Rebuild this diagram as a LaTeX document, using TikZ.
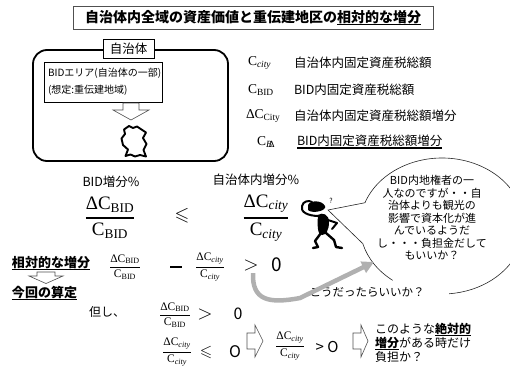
\RequirePackage{fix-cm}
\documentclass[tikz,border=0pt]{standalone}
\usepackage[no-math]{fontspec}
\usepackage{amsmath,amssymb}
\setmainfont{Noto Sans CJK JP}
\newfontfamily\ser{Liberation Serif}
\usetikzlibrary{arrows.meta}

\definecolor{arrowgray}{RGB}{176,176,176}
\definecolor{edgegray}{RGB}{80,80,80}

% thick underline for emphasised words
\newcommand{\myul}[1]{\setbox0=\hbox{#1}\rlap{\rule[-2.6pt]{\wd0}{1.1pt}}\box0}
% serif symbols for the tax quantities
\newcommand{\qC}{\text{\ser C}}
\newcommand{\qD}{\text{\ser Δ}}
\newcommand{\sBID}{_{\text{\ser BID}}}
\newcommand{\sCity}{_{\text{\ser City}}}
\newcommand{\scity}{_{\text{\ser\itshape city}}}
% fraction with a chosen bar thickness
\newcommand{\qfrac}[3]{\genfrac{}{}{#1}{0}{#2}{#3}}

\begin{document}
\begin{tikzpicture}[x=1pt, y=-1pt,
  every node/.style={inner sep=0pt, outer sep=0pt},
  jp/.style={font=\fontsize{12.5}{15}\selectfont},
  jpbody/.style={font=\fontsize{10}{12}\selectfont},
  jpbold/.style={font=\fontsize{13}{15}\selectfont\bfseries},
  defmath/.style={font=\fontsize{13.5}{15}\selectfont},
  bigmath/.style={font=\fontsize{19}{22}\selectfont},
  smallmath/.style={font=\fontsize{11.5}{13}\selectfont},
  relsym/.style={font=\fontsize{20}{24}\selectfont},
  hollow/.style={draw=edgegray, line width=0.6pt, fill=white},
  bubble/.style={draw=black!85, line width=0.6pt},
  stickline/.style={line width=2pt, line cap=round, line join=round},
]
\useasboundingbox (0,0) rectangle (510,370);

% ---------- title ----------
\node[draw=edgegray, line width=0.8pt, minimum width=360pt, minimum height=23pt,
      font=\fontsize{14}{16}\selectfont\bfseries] (title) at (253,17.5)
  {自治体内全域の資産価値と重伝建地区の\myul{相対的な増分}};

% ---------- municipality box ----------
\node[draw, line width=1.8pt, rounded corners=14pt, minimum width=195pt,
      minimum height=111pt] (city) at (130.5,105.5) {};
\node[draw, fill=white, line width=0.8pt, minimum width=51pt, minimum height=19pt,
      jp] (citylabel) at (128.5,48.5) {自治体};
\node[draw, line width=1pt, minimum width=118pt, minimum height=40pt] (bidbox) at (103,82) {};
\node[jpbody, anchor=west] (bidline1) at (48,73) {BIDエリア(自治体の一部)};
\node[jpbody, anchor=west] (bidline2) at (48,90) {(想定:重伝建地域)};

% hollow arrow down to the district outline
\draw[hollow] (123,103) -- (139,103) -- (139,110) -- (149,110) -- (131,120)
  -- (113,110) -- (123,110) -- cycle;

% district outline
\draw[line width=1.9pt, line join=round, fill=white]
  (129,126) -- (133,128) -- (137,126.5) -- (141.5,129.5) -- (146,132.5)
  -- (143,138) -- (146.5,144) -- (143.5,150) -- (146,156.5) -- (140,155)
  -- (135,156.5) -- (130.5,154.5) -- (125.5,156) -- (128,149.5) -- (123,145)
  -- (121.5,138.5) -- (125,134) -- (124,129.5) -- cycle;

% ---------- symbol definitions ----------
\node[defmath, anchor=west] (scity) at (248,63) {$\qC\scity$};
\node[jp, anchor=west] (tcity) at (294,63) {自治体内固定資産税総額};
\node[defmath, anchor=west] (sbid) at (248,90) {$\qC\sBID$};
\node[jp, anchor=west] (tbid) at (294,90) {BID内固定資産税総額};
\node[defmath, anchor=west] (sdcity) at (246,116) {$\qD\qC\sCity$};
\node[jp, anchor=west] (tdcity) at (294,116) {自治体内固定資産税総額増分};
\node[defmath, anchor=west] (sdbid) at (257,142)
  {$\qC_{\text{\ser\itshape B}\mkern-6mu\text{\ser Δ}}$};
\node[jp, anchor=west] (tdbid) at (297,142) {\myul{BID内固定資産税総額増分}};

% ---------- main comparison ----------
\node[jp] (lbid) at (111,182) {BID増分\%};
\node[jp] (lcity) at (256,180) {自治体内増分\%};
\node[bigmath] (fbid) at (110,218)
  {$\displaystyle\qfrac{1.5pt}{\qD\qC\sBID}{\qC\sBID}$};
\node[bigmath] (cmp) at (182,216) {$\leqslant$};
\node[bigmath] (fcity) at (266,218)
  {$\displaystyle\qfrac{1.5pt}{\qD\qC\scity}{\qC\scity}$};

% ---------- relative increment ----------
\node[jpbold, anchor=west] (rel) at (12,263) {\myul{相対的な増分}};
\node[smallmath] (rbid) at (125,267)
  {$\displaystyle\qfrac{0.9pt}{\qD\qC\sBID}{\qC\sBID}$};
\node (minus) at (176,267) {\rule{12pt}{2.4pt}};
\node[smallmath] (rcity) at (210,267)
  {$\displaystyle\qfrac{0.9pt}{\qD\qC\scity}{\qC\scity}$};
\node[relsym] (rgt) at (251,265) {$>$};
\node[font=\fontsize{19}{22}\selectfont] (rzero) at (277,265) {0};

\draw[hollow] (37,272) -- (55,272) -- (55,276) -- (63,276) -- (46,283.5)
  -- (29,276) -- (37,276) -- cycle;
\node[jpbold, anchor=west] (calc) at (12,293) {\myul{今回の算定}};

% ---------- conditions ----------
\node[font=\fontsize{12}{14}\selectfont] (tadashi) at (107,312) {但し、};
\node[smallmath] (cbid) at (175,315)
  {$\displaystyle\qfrac{0.9pt}{\qD\qC\sBID}{\qC\sBID}$};
\node[relsym] (cgt) at (205,314) {$>$};
\node[font=\fontsize{16}{18}\selectfont] (czero) at (238,314) {0};

\node[smallmath] (ccity) at (177,352)
  {$\displaystyle\qfrac{0.9pt}{\qD\qC\scity}{\qC\scity}$};
\node[font=\fontsize{16}{18}\selectfont] (cle) at (206,352) {$\leqslant$};
\node[font=\fontsize{16}{18}\selectfont] (cO) at (235,352) {O};

\draw[hollow] (247,333) -- (255,333) -- (255,325) -- (263,341) -- (255,357)
  -- (255,349) -- (247,349) -- cycle;
\node[smallmath] (ccity2) at (290,346)
  {$\displaystyle\qfrac{0.9pt}{\qD\qC\scity}{\qC\scity}$};
\node[font=\fontsize{15}{18}\selectfont] (cgtO) at (327,347) {> O};
\draw[hollow] (353,333) -- (361,333) -- (361,325) -- (368,341) -- (361,357)
  -- (361,349) -- (353,349) -- cycle;

\node[font=\fontsize{12}{14}\selectfont, anchor=west] (abs1) at (375,330)
  {このような\myul{\bfseries 絶対的}};
\node[font=\fontsize{12}{14}\selectfont, anchor=west] (abs2) at (375,343.5)
  {\myul{\bfseries 増分}がある時だけ};
\node[font=\fontsize{12}{14}\selectfont, anchor=west] (abs3) at (375,357)
  {負担か？};

% ---------- stick figure ----------
\fill (308,205) .. controls (310,200) and (322,200) .. (325,206)
  .. controls (327,211) and (312,214) .. (308,210) -- cycle;
\draw[stickline] (319,216) .. controls (308,216) and (300,212) .. (302,206)
  .. controls (303,201) and (309,200) .. (312,202);
\fill (318,215) .. controls (322,212) and (329,214) .. (329,222)
  .. controls (329,230) and (326,235) .. (322,235)
  .. controls (318,235) and (317,228) .. (318,215) -- cycle;
\draw[stickline] (328,220) -- (337,223) -- (332,229);
\draw[stickline, line width=2.4pt] (321,233) -- (315,241) -- (318,247) -- (313,248);
\draw[stickline, line width=2.4pt] (326,233) -- (334,240) -- (336,247) -- (342,248);
\node[font=\fontsize{7}{8}\selectfont\itshape] (qmark) at (331,201) {?};
\coordinate (mouth) at (328,210);

% ---------- speech bubble ----------
\coordinate (tailtop) at (364.95,202.74);
\coordinate (tailbot) at (362.79,243.6);
\draw[bubble] (tailtop) arc[start angle=200, end angle=445, x radius=82, y radius=68];
\draw[bubble] (392.65,280.3) arc[start angle=127, end angle=165, x radius=82, y radius=68];
\draw[bubble, line join=miter] (tailbot) -- (mouth) -- (tailtop);

\node[font=\fontsize{11}{12.5}\selectfont, align=center] (speech) at (432,218)
  {BID内地権者の一\\人なのですが・・自\\治体よりも観光の\\影響で資本化が進\\んでいるようだ\\し・・・負担金だして\\もいいか？};

% ---------- suggestion arrow ----------
\node[font=\fontsize{11.5}{14}\selectfont] (suggest) at (367,292) {こうだったらいいか？};
\coordinate (arrowstart) at (253,273);
\coordinate (arrowtip) at (374,262);
\draw[arrowgray, line width=4.5pt, -{Triangle[length=12pt,width=12pt]}]
  (arrowstart) .. controls (252,300) and (268,304) .. (300,298) -- (arrowtip);

\end{tikzpicture}
\end{document}
